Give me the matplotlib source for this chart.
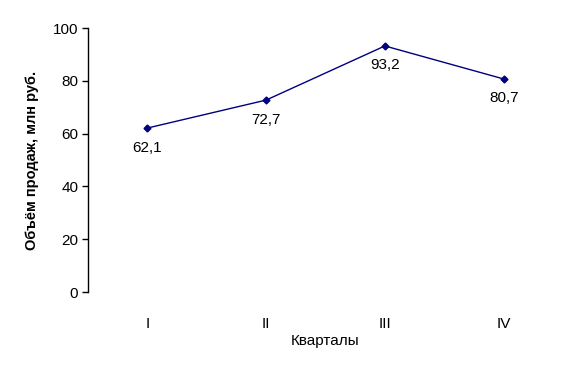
import matplotlib.pyplot as plt

quarters = ['I', 'II', 'III', 'IV']
sales = [62.1, 72.7, 93.2, 80.7]
labels = ['62,1', '72,7', '93,2', '80,7']

plt.rcParams['font.family'] = ['Liberation Sans', 'DejaVu Sans']

fig = plt.figure(figsize=(5.8, 3.71), dpi=100)
ax = fig.add_axes([88/580, 1 - 292/371, 475/580, 264/371])

x = range(len(quarters))
ax.plot(x, sales, color='#000080', lw=1, marker='D', ms=3.5)
for xi, v, t in zip(x, sales, labels):
    ax.annotate(t, (xi, v), xytext=(0, -14), textcoords='offset points',
                ha='center', va='center', fontsize=11)

ax.set_xlim(-0.5, 3.5)
ax.set_ylim(0, 100)
ax.set_yticks(range(0, 101, 20))
ax.set_xticks(list(x))
ax.set_xticklabels(quarters, fontsize=11)
ax.tick_params(axis='x', length=0, pad=18)
ax.tick_params(axis='y', length=4, width=1, labelsize=11, pad=3)
for s in ['top', 'right', 'bottom']:
    ax.spines[s].set_visible(False)
ax.spines['left'].set_linewidth(1)

ax.set_ylabel('Объём продаж, млн руб.', fontsize=10.5, fontweight='bold', labelpad=10)
ax.set_xlabel('Кварталы', fontsize=11, labelpad=2)

fig.savefig('out.png', dpi=100)
